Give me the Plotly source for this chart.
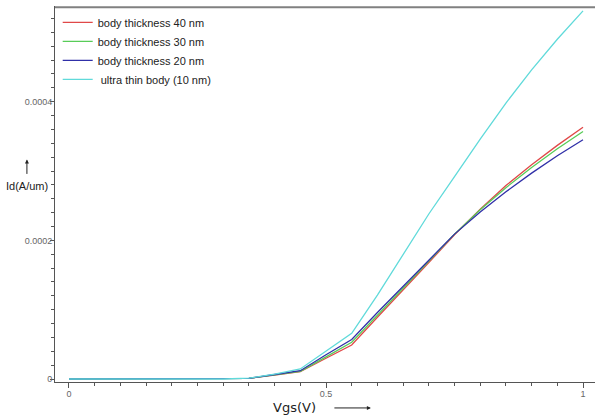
import plotly.graph_objects as go

# Gate voltage sweep (V)
vgs = [0.0, 0.05, 0.1, 0.15, 0.2, 0.25, 0.3, 0.35, 0.4, 0.45, 0.5,
       0.55, 0.6, 0.65, 0.7, 0.75, 0.8, 0.85, 0.9, 0.95, 1.0]

# Drain current (A/um) for each body thickness
id_40nm = [0, 0, 0, 0, 0, 0, 0, 0.000001, 0.0000055, 0.0000105, 0.00003,
           0.000049, 0.000089, 0.000128, 0.000168, 0.000208, 0.000245,
           0.000279, 0.000309, 0.000337, 0.000363]
id_30nm = [0, 0, 0, 0, 0, 0, 0, 0.000001, 0.000006, 0.000011, 0.000032,
           0.000053, 0.000092, 0.000131, 0.000170, 0.000209, 0.000244,
           0.000276, 0.000305, 0.000332, 0.000357]
id_20nm = [0, 0, 0, 0, 0, 0, 0, 0.000001, 0.0000065, 0.000012, 0.000035,
           0.000057, 0.000096, 0.000134, 0.000172, 0.000209, 0.000241,
           0.000270, 0.000297, 0.000322, 0.000345]
id_10nm = [0, 0, 0, 0, 0, 0, 0, 0.0000012, 0.000007, 0.0000145, 0.00004,
           0.000066, 0.000121, 0.000180, 0.000238, 0.000292, 0.000346,
           0.000398, 0.000446, 0.000490, 0.000531]

series = [
    ("body thickness 40 nm", id_40nm, "#e04848"),
    ("body thickness 30 nm", id_30nm, "#58cc58"),
    ("body thickness 20 nm", id_20nm, "#3030a8"),
    (" ultra thin body (10 nm)", id_10nm, "#60dada"),
]

fig = go.Figure()
for name, ys, color in series:
    fig.add_trace(go.Scatter(x=vgs, y=ys, mode="lines", name=name,
                             line=dict(color=color, width=1.3)))

xr = [-0.0272, 1.0233]
yr = [-0.0000043, 0.000538]
axis_col = "#555555"
tick_font = dict(family="Arial, Liberation Sans, sans-serif", size=9, color="#666666")

fig.update_layout(
    width=595, height=419,
    margin=dict(l=55, r=0, t=6, b=37),
    paper_bgcolor="white", plot_bgcolor="white",
    showlegend=True,
    legend=dict(x=0.005, y=0.995, xanchor="left", yanchor="top",
                bgcolor="rgba(0,0,0,0)", tracegroupgap=0,
                font=dict(family="Arial, Liberation Sans, sans-serif", size=11, color="#222222"),
                itemwidth=30),
    xaxis=dict(range=xr, showgrid=False, zeroline=False, showline=True,
               linecolor=axis_col, linewidth=1.3,
               tickmode="linear", tick0=0, dtick=0.5,
               ticks="outside", ticklen=5, tickcolor=axis_col, tickfont=tick_font,
               ticklabelstandoff=-2,
               minor=dict(dtick=0.05, tick0=0, ticks="outside", ticklen=3,
                          tickcolor=axis_col)),
    yaxis=dict(range=yr, showgrid=False, zeroline=False, showline=True,
               linecolor=axis_col, linewidth=1,
               tickmode="linear", tick0=0, dtick=0.0002, exponentformat="none",
               ticks="outside", ticklen=4, tickcolor=axis_col, tickfont=tick_font,
               ticklabelstandoff=-4,
               minor=dict(dtick=0.00002, tick0=0, ticks="outside", ticklen=3,
                          tickcolor=axis_col)),
)

# Top frame line, drawn just inside the plotting area
fig.add_shape(type="line", xref="paper", yref="paper", x0=0, x1=1,
              y0=0.997, y1=0.997, layer="above",
              line=dict(color="#808080", width=2))

label_font = dict(family="Arial, Liberation Sans, sans-serif", size=11, color="#222222")

# y-axis title with upward arrow
fig.add_annotation(xref="paper", yref="paper", x=-0.052, y=0.522,
                   xanchor="center", yanchor="middle",
                   text="Id(A/um)", showarrow=False, font=label_font)
fig.add_annotation(xref="paper", yref="paper", x=-0.052, y=0.592,
                   ax=0, ay=16, text="", showarrow=True, arrowhead=2,
                   arrowsize=0.8, arrowwidth=1, arrowcolor="#222222")

# x-axis title with rightward arrow
fig.add_annotation(xref="paper", yref="paper", x=0.444, y=-0.069,
                   xanchor="center", yanchor="middle",
                   text="Vgs(V)", showarrow=False,
                   font=dict(family="DejaVu Sans, sans-serif", size=13, color="#222222"))
fig.add_annotation(xref="paper", yref="paper", x=0.585, y=-0.069,
                   ax=-38, ay=0, text="", showarrow=True, arrowhead=2,
                   arrowsize=0.8, arrowwidth=1, arrowcolor="#222222")

fig.write_html("out.html")
